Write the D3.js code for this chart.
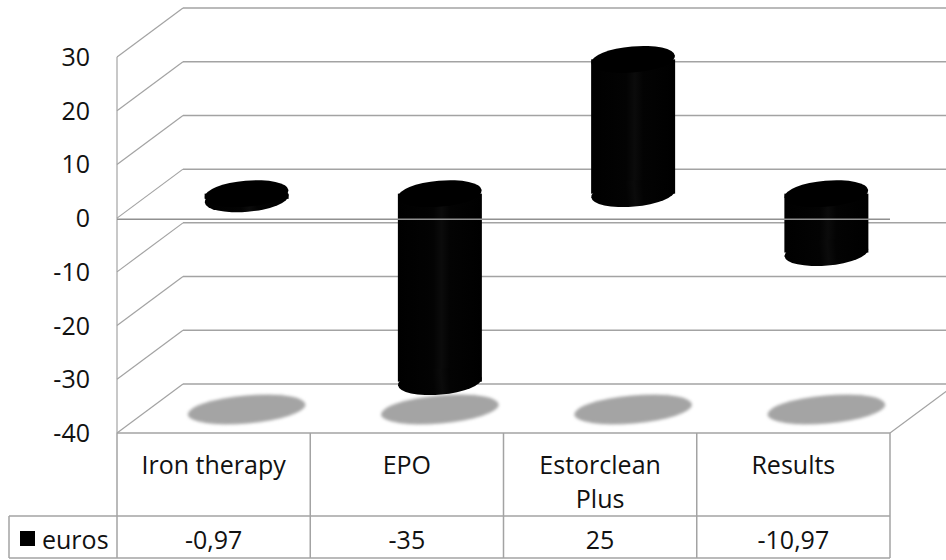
<!DOCTYPE html>
<html>
<head>
<meta charset="utf-8">
<script src="https://cdn.jsdelivr.net/npm/d3@7"></script>
<style>
  html, body { margin: 0; padding: 0; background: #fff; }
  svg { display: block; }
  text { font-family: "Open Sans", "DejaVu Sans", sans-serif; fill: #111; }
</style>
</head>
<body>
<svg id="chart" width="946" height="560"></svg>
<script>
// Cost differences per treatment (euros)
const categories = ["Iron therapy", "EPO", "Estorclean Plus", "Results"];
const categoryLines = [["Iron therapy"], ["EPO"], ["Estorclean", "Plus"], ["Results"]];
const values = [-0.97, -35, 25, -10.97];
const valueLabels = ["-0,97", "-35", "25", "-10,97"];
const yTicks = [30, 20, 10, 0, -10, -20, -30, -40];
const seriesName = "euros";

const svg = d3.select("#chart");
const W = 946, H = 560;

// Front plane geometry and 3D depth offset
const left = 117, right = 890;
const y = d3.scaleLinear().domain([-40, 30]).range([433, 57]);
const x = d3.scaleBand().domain(categories).range([left, right]);
const depth = { dx: 66, dy: -49 };
const mid = { dx: depth.dx / 2, dy: depth.dy / 2 };

const gridColor = "#a3a3a3";

const defs = svg.append("defs");
const grad = defs.append("linearGradient").attr("id", "cyl").attr("x1", "0").attr("x2", "1").attr("y1", "0").attr("y2", "0");
grad.append("stop").attr("offset", "0%").attr("stop-color", "#000");
grad.append("stop").attr("offset", "42%").attr("stop-color", "#030303");
grad.append("stop").attr("offset", "52%").attr("stop-color", "#0b0b0b");
grad.append("stop").attr("offset", "62%").attr("stop-color", "#030303");
grad.append("stop").attr("offset", "100%").attr("stop-color", "#000");
defs.append("filter").attr("id", "soft").attr("x", "-20%").attr("y", "-50%").attr("width", "140%").attr("height", "200%")
  .append("feGaussianBlur").attr("stdDeviation", 1.6);

// Back wall gridlines
svg.append("g").selectAll("line").data(yTicks).join("line")
  .attr("x1", left + depth.dx).attr("x2", W + 10)
  .attr("y1", d => y(d) + depth.dy).attr("y2", d => y(d) + depth.dy)
  .attr("stroke", gridColor).attr("stroke-width", 1.5);

// Side wall gridlines
svg.append("g").selectAll("line").data(yTicks).join("line")
  .attr("x1", left).attr("y1", d => y(d))
  .attr("x2", left + depth.dx).attr("y2", d => y(d) + depth.dy)
  .attr("stroke", gridColor).attr("stroke-width", 1.2);

// Side wall front edge
svg.append("line")
  .attr("x1", left).attr("x2", left).attr("y1", y(30)).attr("y2", y(-40))
  .attr("stroke", gridColor).attr("stroke-width", 1.2);

// Floor right edge
svg.append("line")
  .attr("x1", right).attr("y1", y(-40))
  .attr("x2", right + depth.dx).attr("y2", y(-40) + depth.dy)
  .attr("stroke", gridColor).attr("stroke-width", 1.2);

// Y axis labels
svg.append("g").selectAll("text").data(yTicks).join("text")
  .attr("x", 90).attr("y", d => y(d) + 9)
  .attr("text-anchor", "end").attr("font-size", 25)
  .text(d => d);

const rx = 42, ry = 13, tilt = -5;

// Floor shadows
svg.append("g").selectAll("ellipse").data(categories).join("ellipse")
  .attr("transform", d => `translate(${x(d) + x.bandwidth() / 2 + mid.dx},${y(-40) + mid.dy + 1}) rotate(${tilt})`)
  .attr("rx", 59).attr("ry", 14)
  .attr("fill", "#a4a4a4")
  .attr("filter", "url(#soft)");

// Cylinders
const bars = svg.append("g").selectAll("g").data(categories.map((c, i) => ({ c, v: values[i] }))).join("g");
bars.each(function (d) {
  const g = d3.select(this);
  const cx = x(d.c) + x.bandwidth() / 2 + mid.dx;
  const y0 = y(0) + mid.dy, y1 = y(d.v) + mid.dy;
  const top = Math.min(y0, y1), bot = Math.max(y0, y1);
  g.append("rect").attr("x", cx - rx).attr("width", 2 * rx)
    .attr("y", top).attr("height", bot - top).attr("fill", "url(#cyl)");
  g.append("ellipse").attr("transform", `translate(${cx},${bot}) rotate(${tilt})`)
    .attr("rx", rx).attr("ry", ry).attr("fill", "url(#cyl)");
  g.append("ellipse").attr("transform", `translate(${cx},${top}) rotate(${tilt})`)
    .attr("rx", rx).attr("ry", ry).attr("fill", "#000");
});

// Front zero line
svg.append("line")
  .attr("x1", left).attr("x2", right).attr("y1", y(0) + 1).attr("y2", y(0) + 1)
  .attr("stroke", "#909090").attr("stroke-width", 1.5);

// Data table
const tTop = y(-40), tMid = 516, tBot = 558, legLeft = 9;
const tbl = svg.append("g").attr("stroke", gridColor).attr("stroke-width", 1.5);
tbl.append("line").attr("x1", left).attr("x2", right).attr("y1", tTop).attr("y2", tTop);
tbl.append("line").attr("x1", legLeft).attr("x2", right).attr("y1", tMid).attr("y2", tMid);
tbl.append("line").attr("x1", legLeft).attr("x2", right).attr("y1", tBot).attr("y2", tBot);
tbl.append("line").attr("x1", legLeft).attr("x2", legLeft).attr("y1", tMid).attr("y2", tBot);
tbl.selectAll("line.v").data([...categories.map(c => x(c)), right]).join("line")
  .attr("class", "v")
  .attr("x1", d => d).attr("x2", d => d).attr("y1", tTop).attr("y2", tBot);

// Category headers
const hdr = svg.append("g").selectAll("text").data(categories).join("text")
  .attr("x", d => x(d) + x.bandwidth() / 2)
  .attr("y", 474)
  .attr("text-anchor", "middle").attr("font-size", 25);
hdr.each(function (d, i) {
  d3.select(this).selectAll("tspan").data(categoryLines[i]).join("tspan")
    .attr("x", x(d) + x.bandwidth() / 2)
    .attr("dy", (t, j) => j === 0 ? 0 : 34)
    .text(t => t);
});

// Value row
svg.append("g").selectAll("text").data(categories).join("text")
  .attr("x", d => x(d) + x.bandwidth() / 2)
  .attr("y", 549)
  .attr("text-anchor", "middle").attr("font-size", 25)
  .text((d, i) => valueLabels[i]);

// Legend key
svg.append("rect").attr("x", 20).attr("y", 531).attr("width", 15).attr("height", 15).attr("fill", "#000");
svg.append("text").attr("x", 42).attr("y", 549).attr("font-size", 25).text(seriesName);
</script>
</body>
</html>
